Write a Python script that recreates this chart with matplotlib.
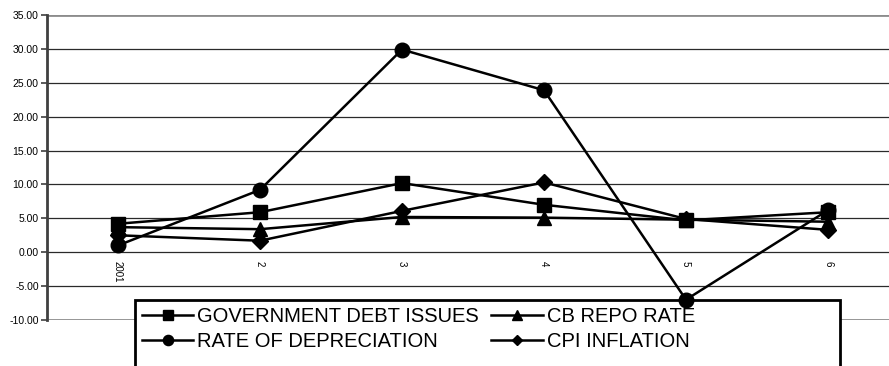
import matplotlib
matplotlib.use("Agg")
import matplotlib.pyplot as plt
from matplotlib.patches import Rectangle

plt.rcParams['font.family'] = ['Liberation Sans', 'DejaVu Sans']

categories = ["2001", "2", "3", "4", "5", "6"]
gov_debt = [4.2, 5.9, 10.2, 7.0, 4.7, 5.9]
cb_repo = [3.7, 3.4, 5.2, 5.1, 4.8, 4.5]
depreciation = [1.0, 9.2, 29.9, 23.9, -7.0, 6.2]
cpi = [2.5, 1.7, 6.1, 10.3, 4.9, 3.3]

series = [
    ("GOVERNMENT DEBT ISSUES", gov_debt, "s", 9.5),
    ("RATE OF DEPRECIATION", depreciation, "o", 10.5),
    ("CB REPO RATE", cb_repo, "^", 10),
    ("CPI INFLATION", cpi, "D", 8),
]

W, H = 889, 366
fig = plt.figure(figsize=(W / 100, H / 100), dpi=100)
ax = fig.add_axes([47 / W, 1 - 320 / H, (899 - 47) / W, (320 - 15) / H])

x = list(range(len(categories)))
handles = []
for label, vals, mk, ms in series:
    h, = ax.plot(x, vals, color="black", lw=1.8, marker=mk, markersize=ms,
                 markerfacecolor="black", markeredgecolor="black",
                 label=label, zorder=4, clip_on=False)
    handles.append(h)

ax.set_xlim(-0.5, len(categories) - 0.5)
ax.set_ylim(-10, 35)
yt = list(range(-10, 40, 5))
ax.set_yticks(yt)
ax.set_yticklabels([f"{v:.2f}" for v in yt], fontsize=7.5)
ax.tick_params(axis="y", length=4, width=1.2, color="#404040", pad=2)

# category labels hang below the zero line
ax.set_xticks([])
for xi, c in zip(x, categories):
    ax.annotate(c, (xi, 0), xytext=(0, -6), textcoords="offset points",
                rotation=270, fontsize=7, ha="center", va="top",
                annotation_clip=False)

for v in yt[1:-1]:
    ax.axhline(v, color="#2a2a2a", lw=0.9, zorder=1)

for s in ["right", "bottom", "top"]:
    ax.spines[s].set_visible(False)
ax.spines["left"].set_color("#404040")
ax.spines["left"].set_linewidth(2)
ax.axhline(35, color="#8c8c8c", lw=2, zorder=1.5)
ax.axhline(-10, color="#8c8c8c", lw=2, zorder=1.5)

# legend box extends past the bottom edge
box = Rectangle((135 / W, -0.1), (840 - 135) / W, 0.1 + (366 - 300) / H,
                transform=fig.transFigure, facecolor="white",
                edgecolor="black", lw=2, zorder=2.5, clip_on=False)
ax.add_patch(box)

leg = ax.legend(handles=handles, ncol=2, loc="upper left",
                bbox_to_anchor=(135 / W, 1 - 300 / H),
                bbox_transform=fig.transFigure, frameon=False,
                fontsize=14.5, markerscale=0.7, handlelength=2.55,
                handletextpad=0.2, columnspacing=0.6, labelspacing=0.3,
                borderpad=0.35, borderaxespad=0)
leg.set_zorder(3)

fig.savefig("out.png", dpi=100)
